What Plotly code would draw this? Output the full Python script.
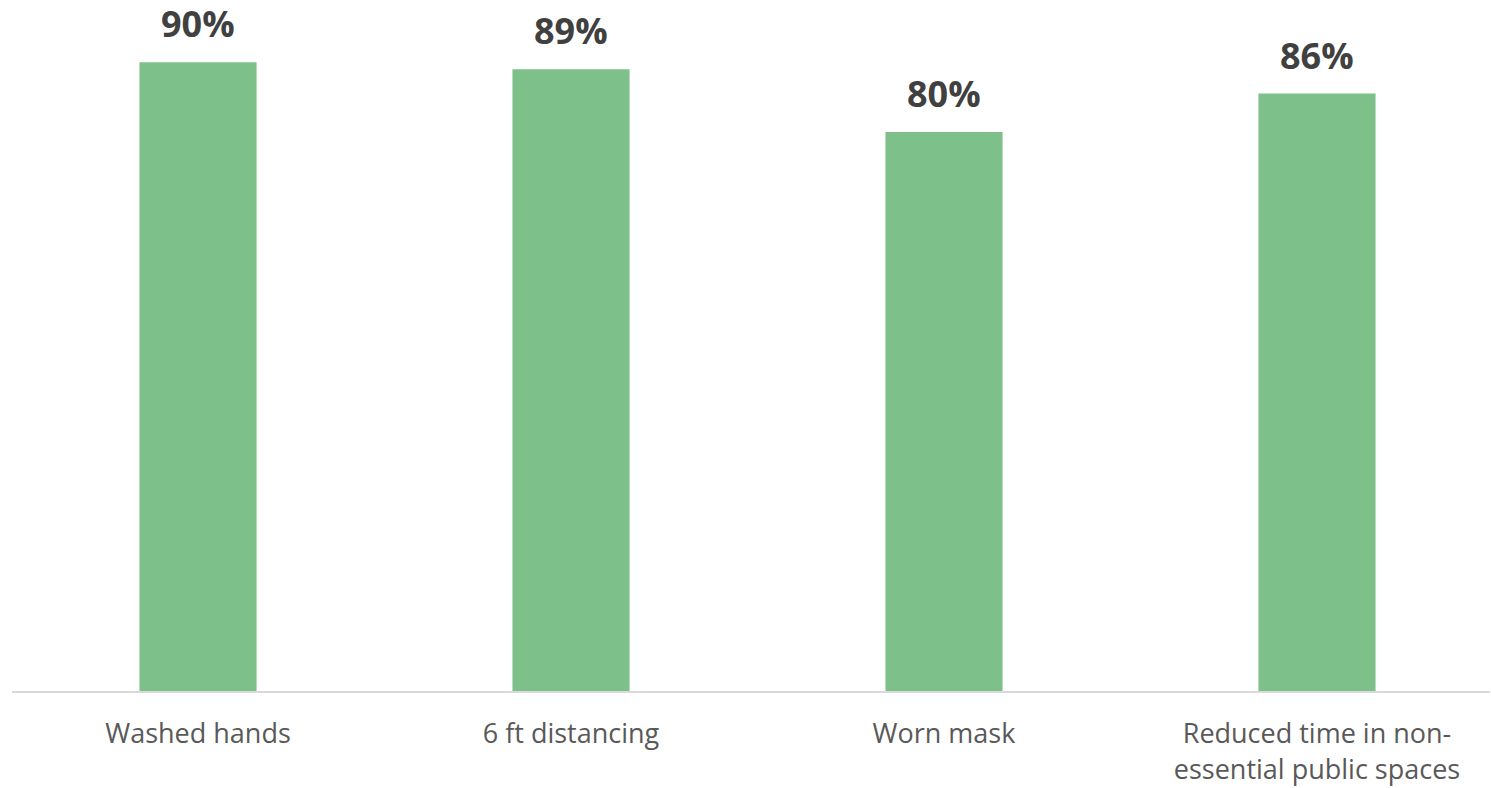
import plotly.graph_objects as go

categories = ["Washed hands", "6 ft distancing", "Worn mask", "Reduced time in non-<br>essential public spaces"]
values = [90, 89, 80, 85.5]
labels = ["90%", "89%", "80%", "86%"]

fig = go.Figure()
fig.add_trace(go.Bar(
    x=categories, y=values,
    marker=dict(color="#7DC08A", line=dict(width=0)),
    width=0.314,
    hoverinfo="skip",
))
for c, v, t in zip(categories, values, labels):
    fig.add_annotation(
        x=c, y=v, text=f"<b>{t}</b>", showarrow=False,
        yanchor="bottom", yshift=12,
        font=dict(family="Open Sans", size=36, color="#404040"),
    )

fig.update_layout(
    width=1491, height=788,
    margin=dict(l=12, r=1, t=0, b=97),
    plot_bgcolor="white", paper_bgcolor="white",
    showlegend=False,
    bargap=0.686,
    xaxis=dict(
        range=[-0.4987, 3.4638],
        automargin=False,
        showline=True, linecolor="#D9D9D9", linewidth=2,
        showgrid=False, ticks="outside", ticklen=0,
        ticklabelstandoff=18,
        tickfont=dict(family="Open Sans", size=27, color="#595959"),
    ),
    yaxis=dict(range=[0, 98.9], visible=False, showgrid=False, automargin=False),
)

fig.write_html("out.html", config={"displayModeBar": False},
               post_script="document.body.style.margin='0';")
